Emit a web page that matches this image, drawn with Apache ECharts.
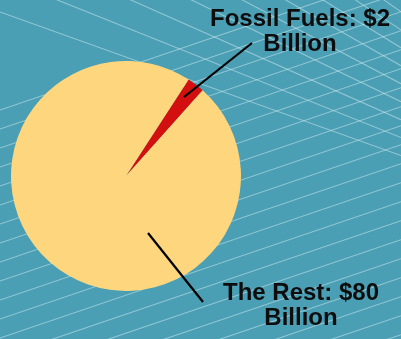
<!DOCTYPE html>
<html>
<head>
<meta charset="utf-8">
<script src="https://cdn.jsdelivr.net/npm/echarts@6/dist/echarts.min.js"></script>
<style>
html,body{margin:0;padding:0;background:#4a9fb4;}
#chart{width:401px;height:339px;}
</style>
</head>
<body>
<div id="chart"></div>
<script>
const categories = ['Fossil Fuels', 'The Rest'];
const values = [2, 80];
const unitSuffix = 'Billion';
const sliceColors = ['#d40f0f', '#fdd67d'];

const chart = echarts.init(document.getElementById('chart'), null, {renderer: 'canvas'});

// decorative background mesh
const bgLines = [];
const meshStroke = 'rgba(215,238,244,0.5)';
for (let k = 0; k <= 20; k++) {
  const y0 = 110 + 19 * k;
  bgLines.push({type: 'line', silent: true, z: -10,
    shape: {x1: 0, y1: y0, x2: 401, y2: y0 - 401 * 0.34},
    style: {stroke: meshStroke, lineWidth: 1.1}});
}
const vp = [824, 307];
for (let k = 0; k <= 9; k++) {
  const b = 12 - 35 * k;
  bgLines.push({type: 'line', silent: true, z: -10,
    shape: {x1: 0, y1: b, x2: 401, y2: b + 401 * (vp[1] - b) / vp[0]},
    style: {stroke: meshStroke, lineWidth: 1.1}});
}

const labelPlacement = {
  'Fossil Fuels': {x: 300, y: 32, line: [[184, 97], [252, 43], [252, 43]]},
  'The Rest': {x: 301, y: 306, line: [[148, 233], [203, 302], [203, 302]]}
};

const pieCommon = {
  type: 'pie',
  center: [126, 176],
  radius: 115,
  startAngle: 57,
  clockwise: true,
  avoidLabelOverlap: false,
  emphasis: {disabled: true}
};

const option = {
  backgroundColor: '#4a9fb4',
  animation: false,
  graphic: bgLines,
  series: [
    Object.assign({}, pieCommon, {
      z: 2,
      data: categories.map((c, i) => ({name: c, value: values[i], itemStyle: {color: sliceColors[i]}})),
      label: {show: false},
      labelLine: {show: false}
    }),
    Object.assign({}, pieCommon, {
      z: 5,
      silent: true,
      data: categories.map((c, i) => ({name: c, value: values[i], itemStyle: {color: 'rgba(0,0,0,0)'}})),
      label: {
        show: true,
        formatter: p => p.name + ': $' + p.value + '\n' + unitSuffix,
        fontFamily: '"Liberation Sans", Arial, Helvetica, sans-serif',
        fontWeight: 'bold',
        fontSize: 24,
        lineHeight: 25,
        color: '#0d0d0d',
        align: 'center'
      },
      labelLine: {show: true, lineStyle: {color: '#000', width: 2.2}, smooth: false},
      labelLayout: function (params) {
        const pl = labelPlacement[categories[params.dataIndex]];
        return {x: pl.x, y: pl.y, align: 'center', verticalAlign: 'middle', labelLinePoints: pl.line};
      }
    })
  ]
};
chart.setOption(option);
</script>
</body>
</html>
